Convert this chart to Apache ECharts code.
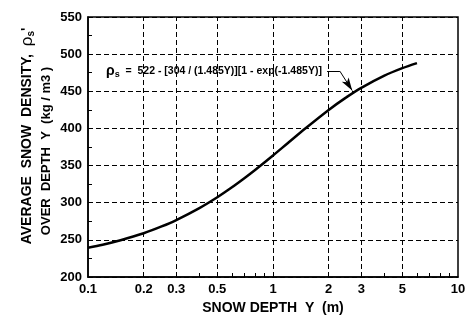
<!DOCTYPE html>
<html>
<head>
<meta charset="utf-8">
<script src="https://cdn.jsdelivr.net/npm/echarts@6/dist/echarts.min.js"></script>
<style>
  html, body { margin: 0; padding: 0; background: #fff; }
  #chart { width: 474px; height: 330px; }
</style>
</head>
<body>
<div id="chart"></div>
<script>
// Snow depth Y (m) and average snow density over that depth (kg/m3)
const depthY = [0.1, 0.12, 0.15, 0.2, 0.25, 0.3, 0.4, 0.5, 0.6, 0.7, 0.8, 1, 1.2, 1.5, 2, 2.5, 3, 4, 5, 6];
const density = [239.5, 243.5, 249.5, 258.9, 268.1, 276.7, 292.8, 307.4, 320.8, 333.0, 344.1, 363.6, 380.1, 400.2, 424.9, 442.1, 454.6, 471.0, 481.1, 487.9];

// Axis ticks
const xLabelValues = [0.1, 0.2, 0.3, 0.5, 1, 2, 3, 5, 10];
const xMinorTicks = [0.4, 0.6, 0.7, 0.8, 0.9, 4, 6, 7, 8, 9];
const xGridValues = [0.2, 0.3, 0.5, 1, 2, 3, 5];

// Leader from the equation to the curve: [depth, density]
const leaderPath = [[1.96, 477], [2.3, 477], [2.68, 451]];

const FONT = '"Liberation Sans", Arial, Helvetica, sans-serif';
const dashed = { color: '#000', width: 1, type: [5, 3] };

const chart = echarts.init(document.getElementById('chart'), null, { renderer: 'canvas' });

chart.setOption({
  animation: false,
  backgroundColor: '#fff',
  grid: {
    left: 88, right: 16, top: 17, bottom: 53,
    show: true, borderColor: '#000', borderWidth: 1.5, backgroundColor: 'transparent'
  },
  xAxis: {
    type: 'log', logBase: 10, min: 0.1, max: 10,
    name: 'SNOW DEPTH  Y  (m)',
    nameLocation: 'middle', nameGap: 20,
    nameTextStyle: { fontFamily: FONT, fontWeight: 'bold', fontSize: 14, color: '#000' },
    axisLine: { show: true, lineStyle: { color: '#000', width: 1.5 } },
    axisTick: { show: true, inside: true, length: 4, customValues: xMinorTicks, lineStyle: { color: '#000', width: 1 } },
    axisLabel: {
      customValues: xLabelValues,
      margin: 6,
      fontFamily: FONT, fontWeight: 'bold', fontSize: 13, color: '#000',
      formatter: v => String(+Number(v).toPrecision(3))
    },
    splitLine: { show: false },
    minorTick: { show: false }
  },
  yAxis: {
    type: 'value', min: 200, max: 550, interval: 50,
    axisLine: { show: true, lineStyle: { color: '#000', width: 1.5 } },
    axisTick: { show: false, inside: true },
    minorTick: { show: true, splitNumber: 2, length: 4, lineStyle: { color: '#000', width: 1 } },
    axisLabel: { margin: 6, fontFamily: FONT, fontWeight: 'bold', fontSize: 13, color: '#000' },
    splitLine: { show: true, lineStyle: dashed }
  },
  series: [
    {
      // dashed vertical grid lines on the log axis
      type: 'line',
      data: [],
      silent: true,
      markLine: {
        silent: true,
        symbol: ['none', 'none'],
        label: { show: false },
        lineStyle: dashed,
        data: xGridValues.map(v => ({ xAxis: v }))
      }
    },
    {
      type: 'line',
      data: depthY.map((d, i) => [d, density[i]]),
      smooth: 0.3,
      showSymbol: false,
      lineStyle: { color: '#000', width: 2.5 },
      markLine: {
        silent: true,
        label: { show: false },
        lineStyle: { color: '#000', width: 1, type: 'solid' },
        symbol: ['none', 'none'],
        data: [
          [{ coord: leaderPath[0], symbol: 'none' }, { coord: leaderPath[1], symbol: 'none' }],
          [{ coord: leaderPath[1], symbol: 'none' }, { coord: leaderPath[2], symbol: 'arrow', symbolSize: [6, 13] }]
        ]
      },
      z: 3
    }
  ],
  graphic: [
    {
      type: 'text', left: 106, top: 64,
      style: {
        text: '{rho|ρ}{sub|s}{t|  =  522 - [304 / (1.485Y)][1 - exp(-1.485Y)]}',
        fill: '#000',
        rich: {
          rho: { fontFamily: FONT, fontSize: 14, fontWeight: 'bold', fill: '#000' },
          sub: { fontFamily: FONT, fontSize: 9, fontWeight: 'bold', fill: '#000', padding: [7, 0, 0, 0] },
          t: { fontFamily: FONT, fontSize: 10.5, fontWeight: 'bold', fill: '#000' }
        }
      }
    },
    {
      type: 'text', x: 27, y: 136, rotation: Math.PI / 2,
      style: {
        text: '{a|AVERAGE  SNOW  DENSITY,  }{rho|ρ}{sub|s}{a|\'}',
        align: 'center', verticalAlign: 'middle', fill: '#000',
        rich: {
          a: { fontFamily: FONT, fontSize: 14, fontWeight: 'bold', fill: '#000' },
          rho: { fontFamily: FONT, fontSize: 17, fill: '#000' },
          sub: { fontFamily: FONT, fontSize: 10, fontWeight: 'bold', fill: '#000', padding: [8, 0, 0, 0] }
        }
      }
    },
    {
      type: 'text', x: 46, y: 151, rotation: Math.PI / 2,
      style: {
        text: 'OVER  DEPTH  Y  (kg / m3 )',
        align: 'center', verticalAlign: 'middle', fill: '#000',
        font: 'bold 13px ' + FONT
      }
    }
  ]
});
</script>
</body>
</html>
